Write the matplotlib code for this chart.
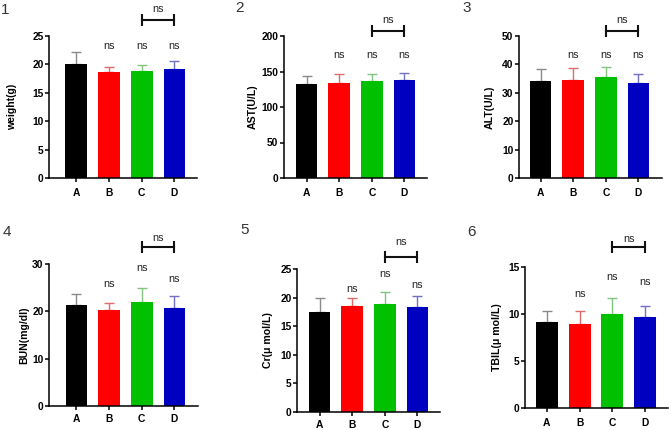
import matplotlib
matplotlib.use("Agg")
import matplotlib.pyplot as plt
import numpy as np

plt.rcParams['font.family'] = ['Liberation Sans', 'DejaVu Sans']

groups = ["A", "B", "C", "D"]
ylabels = ["weight(g)", "AST(U/L)", "ALT(U/L)", "BUN(mg/dl)", "Cr(\u03bc mol/L)", "TBIL(\u03bc mol/L)"]
panel_names = ["1", "2", "3", "4", "5", "6"]

weight_mean = [20.15, 18.7, 18.87, 19.16]
weight_err = [1.95, 0.9, 1.1, 1.4]
ast_mean = [131.8, 134.1, 136.4, 137.4]
ast_err = [11.2, 11.7, 9.4, 9.8]
alt_mean = [34.0, 34.6, 35.7, 33.6]
alt_err = [4.4, 4.2, 3.4, 3.1]
bun_mean = [21.3, 20.2, 22.0, 20.8]
bun_err = [2.3, 1.6, 2.9, 2.4]
cr_mean = [17.5, 18.5, 18.8, 18.4]
cr_err = [2.5, 1.5, 2.1, 1.9]
tbil_mean = [9.18, 8.9, 9.95, 9.67]
tbil_err = [1.17, 1.45, 1.8, 1.23]

means = [weight_mean, ast_mean, alt_mean, bun_mean, cr_mean, tbil_mean]
errs = [weight_err, ast_err, alt_err, bun_err, cr_err, tbil_err]
ymax = [25, 200, 50, 30, 25, 15]
ystep = [5, 50, 10, 10, 5, 5]

bar_colors = ["#000000", "#ff0000", "#00c000", "#0000c0"]
err_colors = ["#8a8a8a", "#e06a6a", "#80c480", "#7070c4"]

W, H = 669, 430
# axes boxes in pixels: left, right, y0 (bottom), ytop
boxes = [(49, 197, 178, 36), (284, 427, 178, 36), (519, 662, 178, 36),
         (49, 198, 406, 264), (297, 440, 412, 269), (525, 668, 408, 267)]
xlims = [(-0.84, 3.69), (-0.69, 3.69), (-0.66, 3.72),
         (-0.84, 3.72), (-0.69, 3.69), (-0.66, 3.69)]
xpad = [4, 4, 4, 3, 2.5, 4]
# "ns" label heights (data units) over B, C, D
ns_y = [[23.2, 23.2, 23.2], [173, 173, 173], [43.3, 43.3, 43.3],
        [25.8, 29.2, 26.8], [21.5, 24.1, 22.2], [12.1, 13.9, 13.4]]
bracket_y = [27.8, 207, 51.8, 33.6, 27.1, 17.1]
bracket_ns_y = [29.75, 222.5, 55.6, 35.5, 29.7, 18.0]
ylabel_x = [17, 258, 495, 29, 273, 502]
panel_pos = [(5, 10), (239, 8), (467, 8), (7, 232), (245, 230), (472, 232)]

fig = plt.figure(figsize=(W / 100, H / 100), dpi=100)

for i in range(6):
    l, r, b, t = boxes[i]
    ax = fig.add_axes([l / W, 1 - b / H, (r - l) / W, (b - t) / H])
    x = np.arange(len(groups))
    ax.bar(x, means[i], width=0.67, color=bar_colors, edgecolor='none', zorder=2)
    for j in range(4):
        ax.errorbar(x[j], means[i][j], yerr=[[0], [errs[i][j]]], fmt='none',
                    ecolor=err_colors[j], elinewidth=1.0, capsize=3.6,
                    capthick=1.0, zorder=1)
    ax.set_xlim(*xlims[i])
    ax.set_ylim(0, ymax[i])
    ax.set_yticks(np.arange(0, ymax[i] + 0.001, ystep[i]))
    ax.set_xticks(x)
    ax.set_xticklabels(groups)
    for s in ['top', 'right']:
        ax.spines[s].set_visible(False)
    for s in ['left', 'bottom']:
        ax.spines[s].set_linewidth(1.1)
    ax.tick_params(axis='y', length=3, width=1.1, pad=1, labelsize=7.4)
    ax.tick_params(axis='x', length=3, width=1.1, pad=xpad[i], labelsize=7.4)
    for lab in ax.get_xticklabels() + ax.get_yticklabels():
        lab.set_fontweight('bold')
    ax.set_ylabel(ylabels[i], fontsize=7.6, fontweight='bold')
    ax.yaxis.set_label_coords(ylabel_x[i] / W, 1 - ((b + t) / 2) / H,
                              transform=fig.transFigure)
    for k, j in enumerate([1, 2, 3]):
        ax.text(x[j], ns_y[i][k], "ns", ha='center', va='center', fontsize=7.8,
                color='#222222')
    ax.plot([x[2], x[3]], [bracket_y[i], bracket_y[i]], color='#111111',
            lw=1.5, marker='|', markersize=8.6, markeredgewidth=1.5,
            clip_on=False)
    ax.text((x[2] + x[3]) / 2, bracket_ns_y[i], "ns", ha='center', va='center',
            fontsize=7.8, color='#222222', clip_on=False)
    px, py = panel_pos[i]
    fig.text(px / W, 1 - py / H, panel_names[i], ha='center', va='center',
             fontsize=11, color='#333333')

fig.savefig("out.png", dpi=100)
